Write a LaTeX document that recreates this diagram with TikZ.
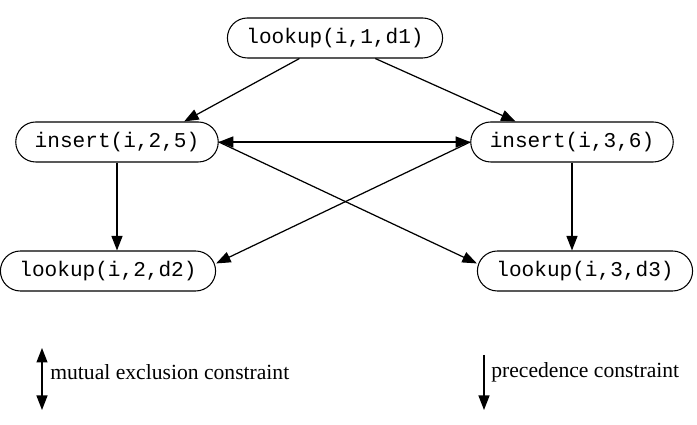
\documentclass[tikz,border=0pt]{standalone}
\usepackage{fontspec}
\setmainfont{Liberation Serif}
\setmonofont{Liberation Mono}
\usepackage{tikz}
\usetikzlibrary{arrows.meta,calc}

\begin{document}
\begin{tikzpicture}[
  op/.style={draw, line width=0.6pt, rounded corners=0.4cm, minimum height=0.8cm, inner xsep=0.38cm, font=\ttfamily\fontsize{12}{14}\selectfont},
  prec/.style={line width=0.7pt, -{Triangle[length=2.9mm,width=2.2mm]}},
  mutex/.style={line width=0.7pt, {Triangle[length=2.9mm,width=2.2mm]}-{Triangle[length=2.9mm,width=2.2mm]}}
]
\useasboundingbox (0,0) rectangle (13.94,8.5);
% operations
\node[op] (lu1) at (6.70,7.74) {lookup(i,1,d1)};
\node[op] (ins2) at (2.34,5.66) {insert(i,2,5)};
\node[op] (ins3) at (11.44,5.66) {insert(i,3,6)};
\node[op] (lu2) at (2.16,3.08) {lookup(i,2,d2)};
\node[op] (lu3) at (11.70,3.08) {lookup(i,3,d3)};
% precedence
\draw[prec] (lu1.210) -- (ins2.17);
\draw[prec] (lu1.333) -- (ins3.160);
\draw[prec] (ins2.south) -- (ins2.south |- lu2.north);
\draw[prec] (ins3.south) -- (ins3.south |- lu3.north);
\draw[prec] (ins2.east) -- (lu3.176);
\draw[prec] (ins3.west) -- (lu2.4);
% mutual exclusion
\draw[mutex] (ins2.east) -- (ins3.west);
% legend
\coordinate (mxtop) at (0.84,1.54);
\coordinate (mxbot) at (0.84,0.30);
\coordinate (prtop) at (9.68,1.40);
\coordinate (prbot) at (9.68,0.30);
\draw[mutex] (mxtop) -- (mxbot);
\draw[prec] (prtop) -- (prbot);
\node[anchor=west, inner sep=0pt, font=\fontsize{12.3}{14}\selectfont] (mxlab) at (1.0,1.06) {mutual exclusion constraint};
\node[anchor=west, inner sep=0pt, font=\fontsize{12.3}{14}\selectfont] (prlab) at (9.82,1.06) {precedence constraint};
\end{tikzpicture}
\end{document}
